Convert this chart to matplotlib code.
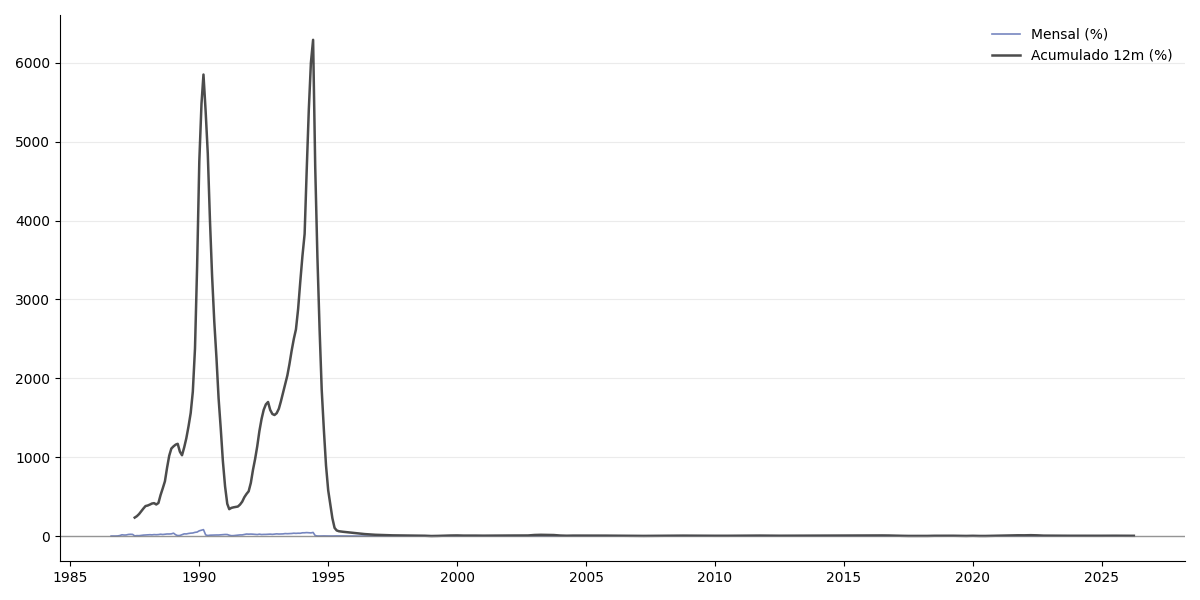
import numpy as np
import pandas as pd
import matplotlib
matplotlib.use("Agg")
import matplotlib.pyplot as plt
import matplotlib.dates as mdates

# ---------------- data ----------------
# Monthly variation (%), Aug 1986 .. Dec 1996 (one value per month)
mensal_1986_1996 = [
    1.33, 1.09, 1.39, 2.46, 7.27,                                                     # 1986 Aug-Dec
    16.82, 13.94, 14.40, 20.96, 23.21, 21.87, 3.08, 6.36, 5.68, 9.18, 12.84, 14.14,   # 1987
    16.51, 17.96, 16.01, 19.28, 17.78, 19.53, 24.04, 20.66, 24.01, 27.25, 26.92, 28.79,  # 1988
    37.49, 16.78, 6.82, 8.33, 17.92, 28.65, 27.74, 33.71, 37.56, 39.77, 47.82, 51.50,  # 1989
    67.55, 75.73, 82.39, 15.52, 7.59, 11.75, 12.92, 12.88, 14.41, 14.36, 16.81, 18.44,  # 1990
    20.75, 20.19, 11.58, 5.61, 6.48, 9.18, 12.56, 15.52, 15.55, 21.55, 26.47, 24.79,   # 1991
    25.92, 24.48, 21.62, 19.97, 24.86, 20.21, 21.83, 22.07, 23.98, 25.24, 22.49, 25.24,  # 1992
    28.73, 26.51, 27.81, 28.21, 32.27, 30.72, 31.96, 33.53, 36.99, 35.14, 36.96, 36.22,  # 1993
    42.19, 42.41, 44.83, 42.46, 40.95, 46.58, 6.84, 1.86, 1.53, 2.62, 2.81, 1.71,      # 1994
    1.70, 1.02, 1.55, 2.43, 2.67, 2.26, 2.36, 0.99, 0.99, 1.41, 1.47, 1.56,            # 1995
    1.34, 1.03, 0.35, 1.26, 1.22, 1.19, 1.11, 0.44, 0.15, 0.30, 0.32, 0.47,            # 1996
]
# 12-month accumulated (%), Jul 1987 .. Dec 1996 (one value per month)
acum_1987_1996 = [
    235, 253, 280, 315, 350, 381,                                             # 1987 Jul-Dec
    388, 400, 413, 418, 401, 420, 520, 605, 695, 865, 1020, 1110,             # 1988
    1138, 1160, 1170, 1070, 1025, 1125, 1240, 1390, 1560, 1830, 2380, 3420,   # 1989
    4750, 5480, 5850, 5380, 4850, 4000, 3300, 2720, 2260, 1750, 1360, 950,    # 1990
    630, 410, 342, 358, 365, 370, 375, 400, 437, 493, 535, 568,               # 1991
    675, 843, 975, 1140, 1330, 1485, 1600, 1670, 1700, 1600, 1548, 1535,      # 1992
    1558, 1615, 1705, 1815, 1925, 2035, 2180, 2350, 2500, 2620, 2880, 3220,   # 1993
    3550, 3830, 4600, 5400, 6000, 6290, 4680, 3540, 2620, 1855, 1340, 895,    # 1994
    580, 390, 228, 105, 72, 62, 58, 55, 52, 49, 46, 43,                       # 1995
    40, 37, 34, 31, 28, 26, 24, 22, 20, 18, 17, 16,                           # 1996
]
# Quarterly readings (Jan, Apr, Jul, Oct), Jan 1997 .. Apr 2026
mensal_1997_2026 = [
    1.18, 0.24, 0.09, 0.23,  0.71, 0.24, -0.12, 0.02,  0.70, 0.56, 1.19, 1.19,
    0.62, 0.42, 1.61, 0.14,  0.57, 0.58, 1.33, 0.83,  0.52, 0.80, 1.19, 1.31,
    2.25, 0.97, 0.20, 0.29,  0.76, 0.37, 0.91, 0.44,  0.58, 0.87, 0.25, 0.75,
    0.59, 0.21, 0.19, 0.33,  0.44, 0.25, 0.24, 0.30,  0.54, 0.55, 0.53, 0.45,
    0.48, 0.48, 0.24, 0.28,  0.75, 0.57, 0.01, 0.75,  0.83, 0.77, 0.16, 0.43,
    0.56, 0.64, 0.43, 0.59,  0.86, 0.55, 0.03, 0.57,  0.55, 0.67, 0.01, 0.42,
    1.24, 0.71, 0.62, 0.82,  1.27, 0.61, 0.52, 0.26,  0.38, 0.14, 0.24, 0.42,
    0.29, 0.22, 0.33, 0.45,  0.32, 0.57, 0.19, 0.10,  0.21, -0.31, 0.36, 0.86,
    0.25, 0.31, 0.96, 1.25,  0.54, 1.06, -0.68, 0.59,  0.53, 0.61, 0.12, 0.24,
    0.42, 0.38, 0.38, 0.56,  0.16, 0.43, 0.26, 0.09,  0.33, 0.40,
]
acum_1997_2026 = [
    14, 12, 10, 9,  8, 7, 6, 5,  1.6, 3.0, 5.9, 7.9,
    8.9, 6.8, 7.1, 6.7,  5.9, 6.6, 6.9, 7.5,  7.6, 7.8, 7.5, 8.4,
    14.5, 16.8, 15.0, 13.9,  7.7, 5.3, 6.8, 6.9,  7.4, 8.1, 6.6, 6.4,
    5.7, 4.6, 4.0, 3.3,  3.0, 3.0, 3.7, 4.1,  4.6, 5.0, 6.4, 6.4,
    5.8, 5.5, 4.5, 4.2,  4.6, 5.3, 4.6, 5.2,  6.0, 6.5, 6.9, 7.0,
    6.2, 5.1, 5.2, 5.5,  6.2, 6.5, 6.3, 5.8,  5.6, 6.3, 6.5, 6.6,
    7.1, 8.2, 9.6, 9.9,  10.7, 9.3, 8.7, 7.9,  5.4, 4.1, 2.7, 2.7,
    2.9, 2.8, 4.5, 4.6,  3.8, 4.9, 3.2, 2.5,  4.2, 2.4, 2.3, 3.9,
    4.6, 6.8, 9.0, 10.7,  10.4, 12.1, 10.1, 6.5,  5.8, 4.2, 4.0, 4.8,
    4.5, 3.7, 4.5, 4.8,  4.6, 5.5, 5.2, 4.7,  4.4, 4.2,
]
legend_labels = ["Mensal (%)", "Acumulado 12m (%)"]

# ---------------- dates ----------------
dates_m_early = pd.date_range("1986-08-01", periods=len(mensal_1986_1996), freq="MS")
dates_a_early = pd.date_range("1987-07-01", periods=len(acum_1987_1996), freq="MS")
dates_late = pd.date_range("1997-01-01", periods=len(mensal_1997_2026), freq="3MS")

dates_m = dates_m_early.append(dates_late)
vals_m = list(mensal_1986_1996) + list(mensal_1997_2026)
dates_a = dates_a_early.append(dates_late)
vals_a = list(acum_1987_1996) + list(acum_1997_2026)

# ---------------- plot ----------------
fig = plt.figure(figsize=(12, 6), dpi=100)
ax = fig.add_axes([0.05, 0.065, 0.9375, 0.91])

ax.plot(dates_m, vals_m, color="#5468b0", alpha=0.8, lw=1.2, label=legend_labels[0])
ax.plot(dates_a, vals_a, color="#333333", alpha=0.88, lw=1.8, label=legend_labels[1])
ax.axhline(0, color="gray", lw=1, alpha=0.8)

ax.grid(axis="y", color="#ebebeb", lw=0.8)
ax.set_axisbelow(True)
for s in ("top", "right"):
    ax.spines[s].set_visible(False)

ax.xaxis.set_major_locator(mdates.YearLocator(5))
ax.xaxis.set_major_formatter(mdates.DateFormatter("%Y"))

ax.legend(loc="upper right", frameon=False, fontsize=10)

fig.savefig("out.png", dpi=100)
